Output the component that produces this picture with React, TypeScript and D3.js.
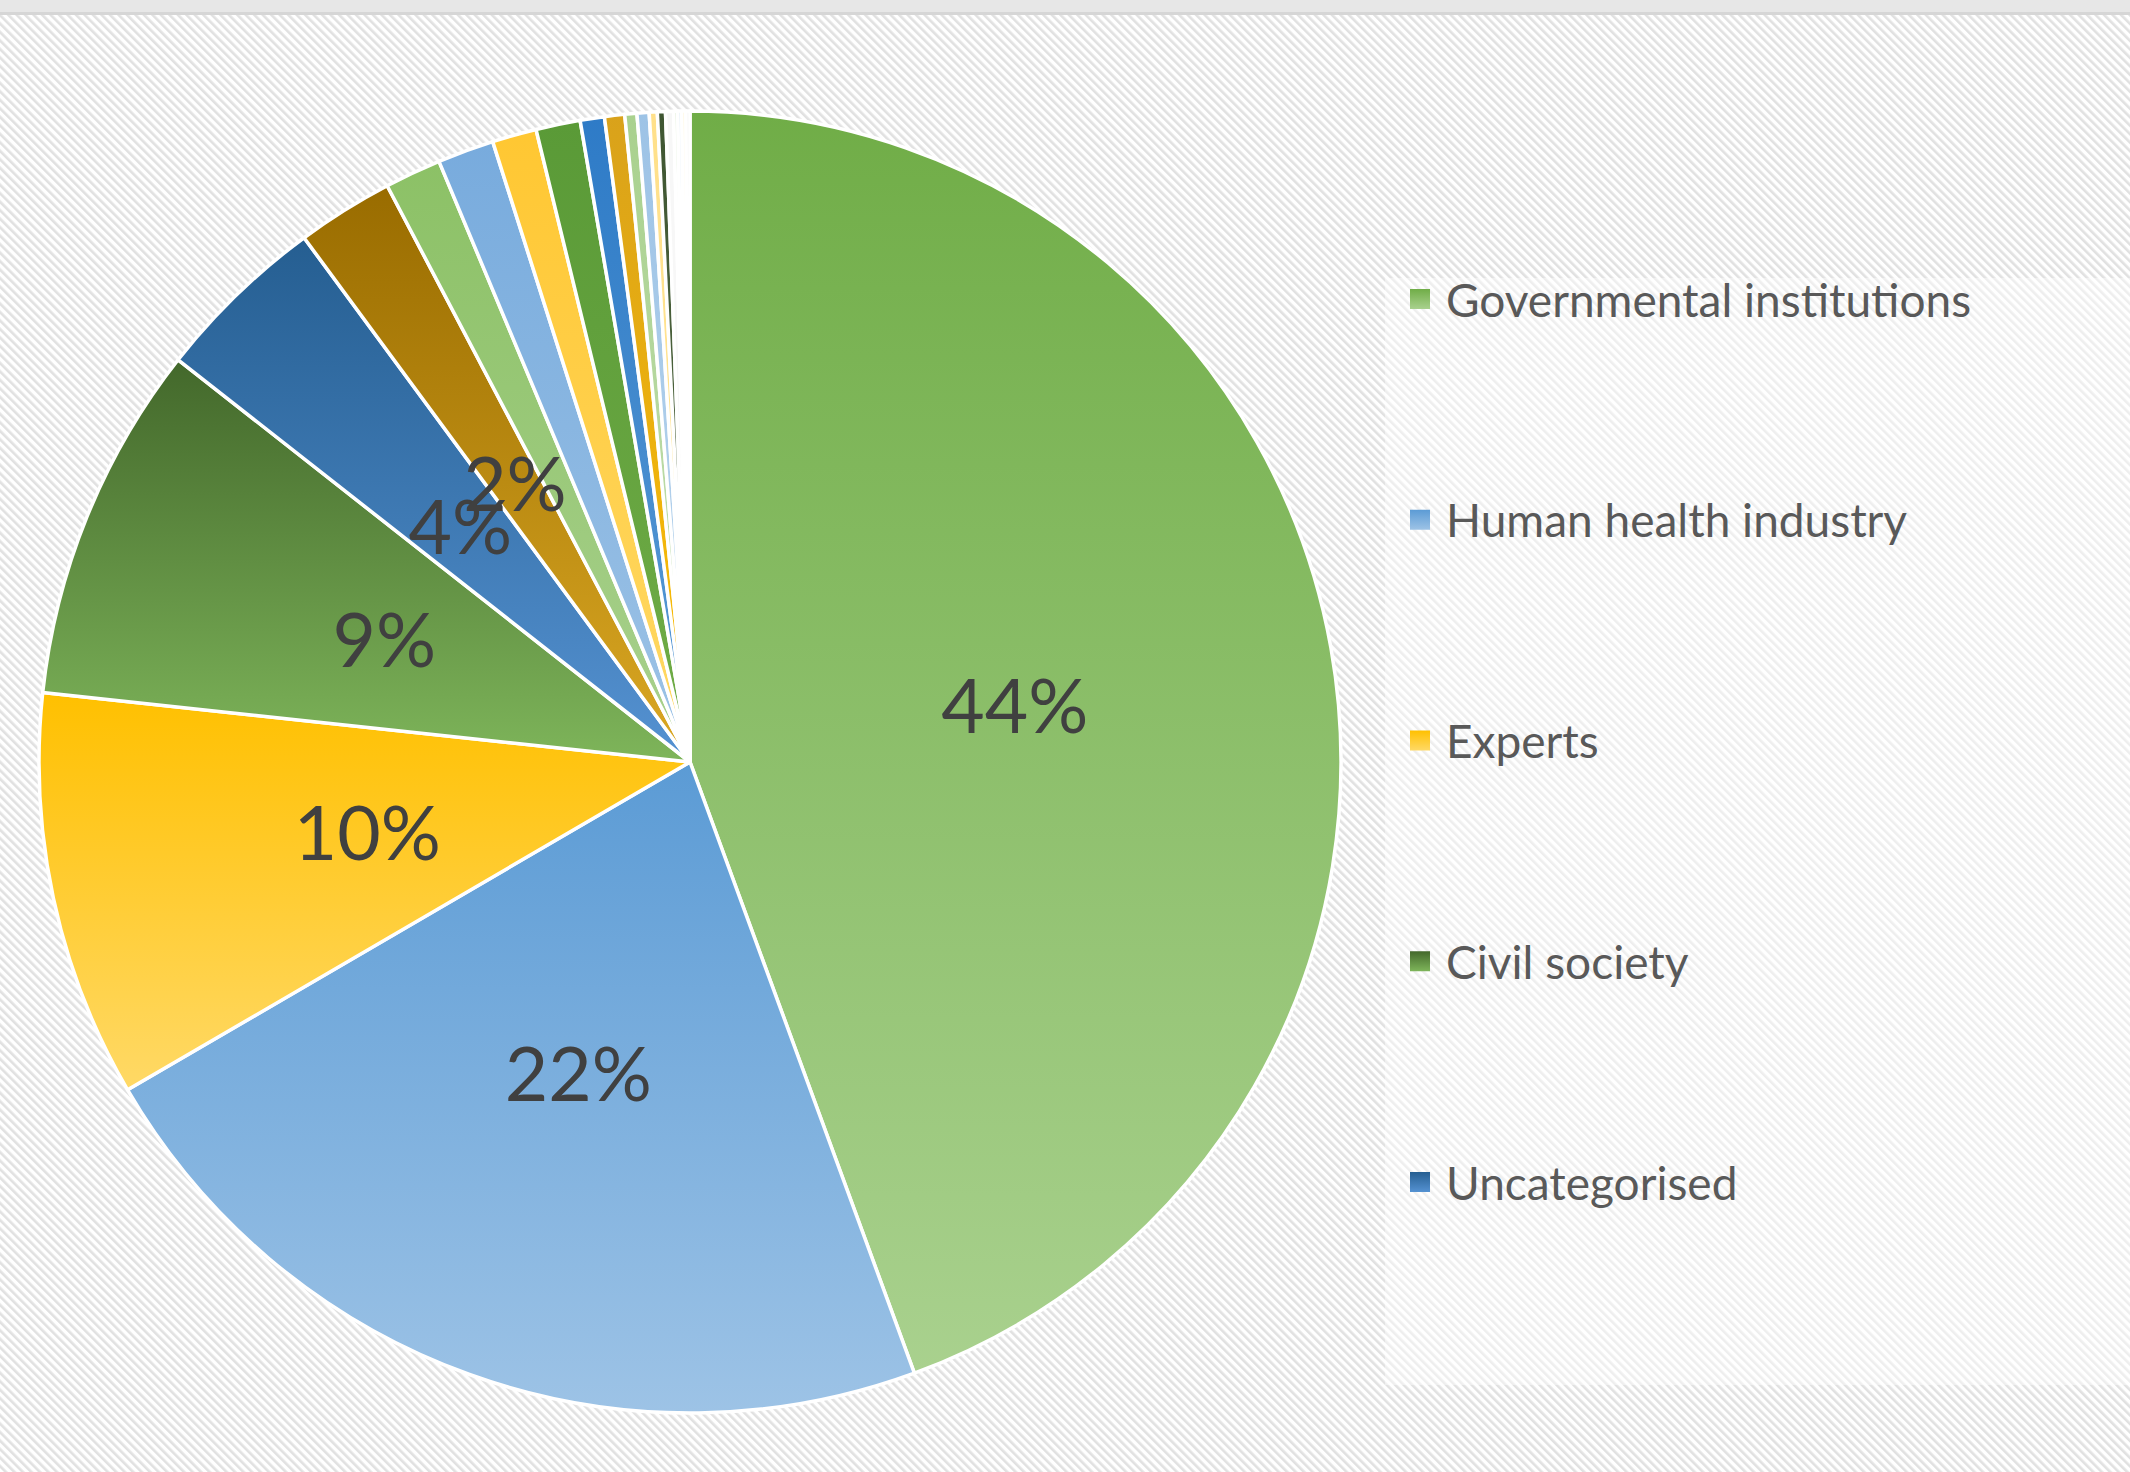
import * as d3 from "d3";
import { useEffect } from "react";

// Slice shares (percent), clockwise from 12 o'clock
const shares = [44.4, 22.2, 10.1, 8.9, 4.3, 2.4, 1.4, 1.4, 1.1, 1.1, 0.6, 0.5, 0.3, 0.3, 0.2, 0.2, 0.2, 0.1, 0.1, 0.1, 0.1];

// Only the first five categories appear in the legend
const legendLabels = [
  "Governmental institutions",
  "Human health industry",
  "Experts",
  "Civil society",
  "Uncategorised",
];

// Gradient colours per slice: top -> bottom
const topColors = [
  "#70ad47", "#5b9bd5", "#ffc000", "#43682b", "#255e91", "#996c00",
  "#8cc166", "#78abdd", "#ffc732", "#5a9a37", "#2e7bc7", "#d9a21b",
  "#a9d18e", "#9dc3e6", "#ffe08a", "#3f5632", "#f7f7f7", "#e2efda", "#ddebf7", "#fff2cc", "#f2f2f2",
];
const bottomColors = [
  "#a9d18e", "#9dc3e6", "#ffd966", "#7eb55a", "#5592d2", "#dba823",
  "#a9d18e", "#9dc3e6", "#ffd966", "#70ad47", "#5b9bd5", "#ffc000",
  "#c5e0b4", "#bdd7ee", "#ffe699", "#5a7048", "#f7f7f7", "#e2efda", "#ddebf7", "#fff2cc", "#f2f2f2",
];

const W = 2130;
const H = 1472;
const cx = 690;
const cy = 762;
const radius = 651;
const labelRadius = 330;
const font = "Lato, 'Noto Sans', sans-serif";

export default function App() {
  useEffect(() => {
    document.body.style.margin = "0";
  }, []);

  const pie = d3.pie<number>().sort(null).value((d) => d);
  const arcs = pie(shares);
  const arc = d3.arc<d3.PieArcDatum<number>>().innerRadius(0).outerRadius(radius);
  const labelArc = d3.arc<d3.PieArcDatum<number>>().innerRadius(labelRadius).outerRadius(labelRadius);
  const total = d3.sum(shares);

  const legendY = d3.scalePoint<number>().domain(d3.range(legendLabels.length)).range([299, 1182]);

  return (
    <svg width={W} height={H} style={{ display: "block" }}>
      <defs>
        <pattern id="stripes" width="6" height="6" patternUnits="userSpaceOnUse" patternTransform="rotate(-45)">
          <rect width="6" height="6" fill="#ffffff" />
          <rect width="2.6" height="6" fill="#e1e1e1" />
        </pattern>
        {shares.map((_, i) => (
          <linearGradient key={i} id={`g${i}`} x1="0" y1="0" x2="0" y2="1">
            <stop offset="0" stopColor={topColors[i]} />
            <stop offset="1" stopColor={bottomColors[i]} />
          </linearGradient>
        ))}
      </defs>

      <rect width={W} height={H} fill="url(#stripes)" />
      <rect width={W} height={12} fill="#e7e7e7" />
      <rect y={12} width={W} height={3} fill="#d6d6d6" />

      {/* legend box */}
      <rect x={1385} y={278} width={W - 1385} height={1107} fill="rgba(255,255,255,0.45)" />

      <g transform={`translate(${cx},${cy})`}>
        {arcs.map((a, i) => (
          <path key={i} d={arc(a) ?? ""} fill={`url(#g${i})`} stroke="#ffffff" strokeWidth={3.5} strokeLinejoin="round" />
        ))}
        {arcs.map((a, i) => {
          const pct = Math.round((a.value / total) * 100);
          if (pct < 2) return null;
          const [x, y] = labelArc.centroid(a);
          return (
            <text
              key={`l${i}`}
              x={x}
              y={y}
              textAnchor="middle"
              dominantBaseline="central"
              fontFamily={font}
              fontSize={75}
              fill="#404040"
            >
              {`${pct}%`}
            </text>
          );
        })}
      </g>

      <g>
        {legendLabels.map((name, i) => (
          <g key={name} transform={`translate(1410,${legendY(i)})`}>
            <rect x={0} y={-10} width={20} height={20} fill={`url(#g${i})`} />
            <text x={36} y={0} dominantBaseline="central" fontFamily={font} fontSize={46} fill="#595959">
              {name}
            </text>
          </g>
        ))}
      </g>
    </svg>
  );
}
